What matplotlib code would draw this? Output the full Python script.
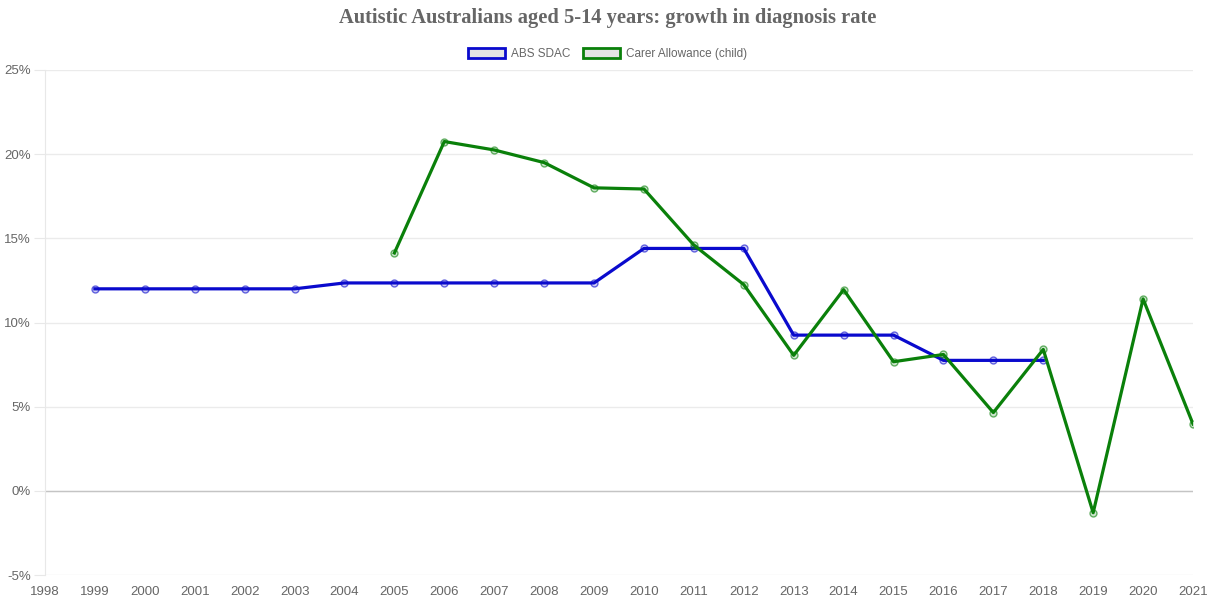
import matplotlib
matplotlib.use("Agg")
import matplotlib.pyplot as plt
from matplotlib.patches import Patch
from matplotlib.ticker import FuncFormatter, MultipleLocator

years = list(range(1998, 2022))
abs_years = list(range(1999, 2019))
abs_sdac = [12.0, 12.0, 12.0, 12.0, 12.0, 12.35, 12.35, 12.35, 12.35, 12.35, 12.35,
            14.4, 14.4, 14.4, 9.25, 9.25, 9.25, 7.75, 7.75, 7.75]
ca_years = list(range(2005, 2022))
carer = [14.13, 20.75, 20.25, 19.5, 18.0, 17.93, 14.6, 12.25, 8.05, 11.95, 7.67,
         8.1, 4.65, 8.4, -1.3, 11.4, 3.97]
series_names = ["ABS SDAC", "Carer Allowance (child)"]
title = "Autistic Australians aged 5-14 years: growth in diagnosis rate"

blue = "#0a0acd"
green = "#0a800a"
gray_text = "#666666"

fig = plt.figure(figsize=(12.15, 6.01), dpi=100)
ax = fig.add_axes([45/1215, 26/601, (1193-45)/1215, (575-70)/601])

ax.plot(abs_years, abs_sdac, color=blue, lw=2.3, marker="o", ms=5,
        mfc=(0.04, 0.04, 0.8, 0.2), mec=(0.04, 0.04, 0.8, 0.6), mew=1, zorder=3)
ax.plot(ca_years, carer, color=green, lw=2.3, marker="o", ms=5,
        mfc=(0.04, 0.5, 0.04, 0.2), mec=(0.04, 0.5, 0.04, 0.6), mew=1, zorder=3)

ax.set_xlim(years[0], years[-1])
ax.set_ylim(-5, 25)
ax.yaxis.set_major_locator(MultipleLocator(5))
ax.yaxis.set_major_formatter(FuncFormatter(lambda v, p: f"{v:.0f}%"))
ax.set_xticks(years)
ax.set_xticklabels([str(y) for y in years])

ax.grid(axis="y", color="#ebebeb", lw=1)
ax.axhline(0, color="#c4c4c4", lw=1, zorder=2)
for s in ["top", "right", "bottom"]:
    ax.spines[s].set_visible(False)
ax.spines["left"].set_color("#e8e8e8")
ax.tick_params(axis="y", length=8, color="#e8e8e8", labelsize=9.5, labelcolor=gray_text, pad=2)
ax.tick_params(axis="x", length=0, labelsize=9.5, labelcolor=gray_text, pad=8)
for lab in ax.get_xticklabels() + ax.get_yticklabels():
    lab.set_fontfamily("Liberation Sans")

fig.text(0.5, 1 - 18/601, title, ha="center", va="center", fontsize=14.8,
         fontweight="bold", family="Liberation Serif", color=gray_text)

handles = [Patch(facecolor="#e4e4e4", edgecolor=blue, lw=2),
           Patch(facecolor="#e4e4e4", edgecolor=green, lw=2)]
fig.legend(handles, series_names, loc="center", bbox_to_anchor=(0.5, 1 - 54/601),
           ncol=2, frameon=False, handlelength=3.2, handleheight=0.9,
           columnspacing=1.0, handletextpad=0.5,
           prop={"family": "Liberation Sans", "size": 8.5}, labelcolor=gray_text)

fig.savefig("out.png", dpi=100)
